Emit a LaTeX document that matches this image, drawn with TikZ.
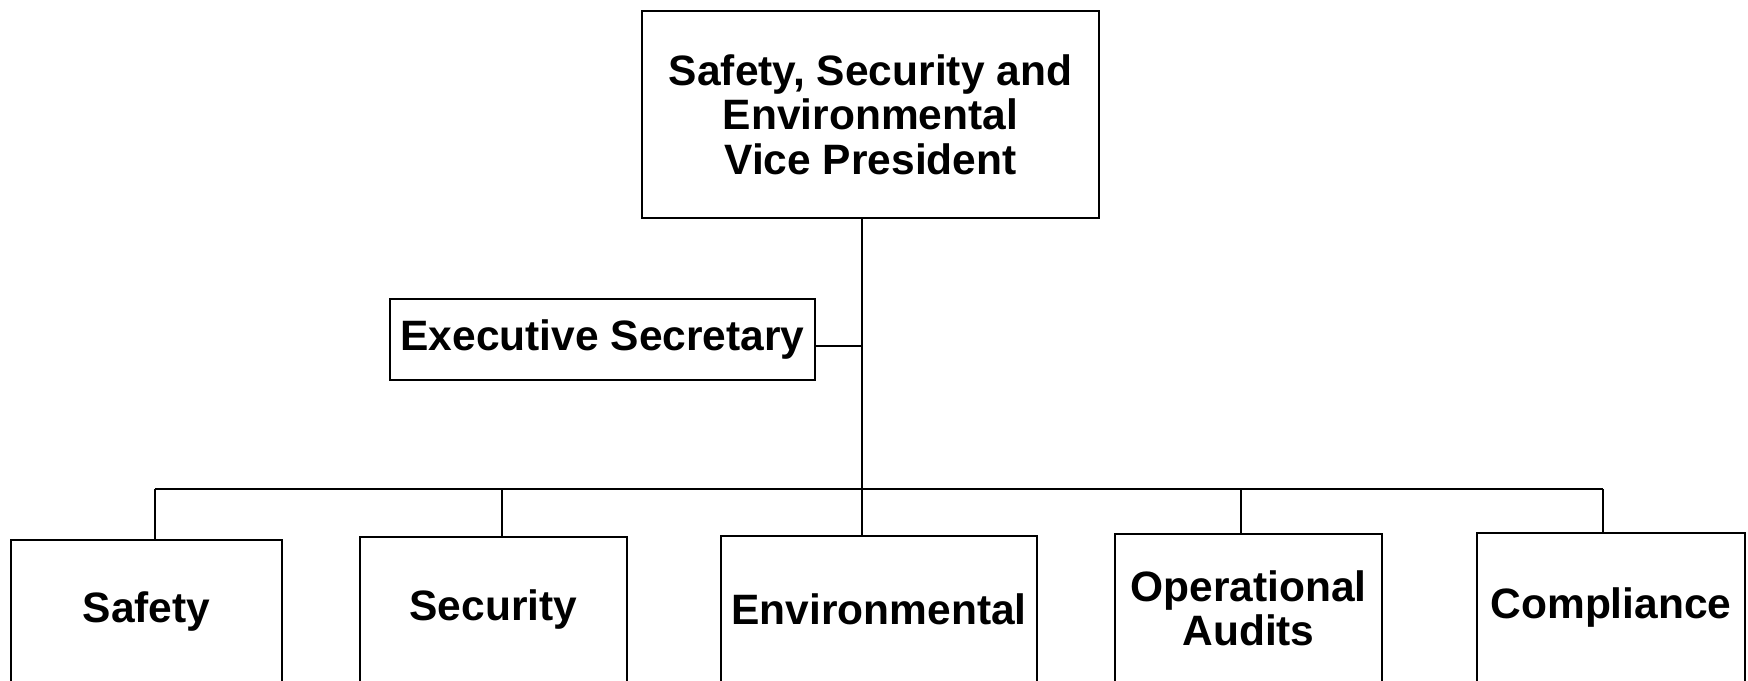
\documentclass[tikz,border=0pt]{standalone}
\usepackage{fontspec}
\setmainfont{Liberation Sans}
\begin{document}
\begin{tikzpicture}[x=1pt,y=-1pt,
  box/.style={draw, line width=2.2pt, inner sep=0pt, align=center,
    font=\fontsize{42.5}{44.5}\selectfont\bfseries},
  conn/.style={line width=2pt}]
\useasboundingbox (0,0) rectangle (1748,680);
\clip (0,0) rectangle (1748,680);
% top
\node[box, minimum width=457pt, minimum height=207pt] (vp) at (870.5,114.5)
  {Safety, Security and\\Environmental\\Vice President};
\node[box, minimum width=425pt, minimum height=81pt] (exec) at (602.5,339.5)
  {Executive Secretary};
% bottom boxes (cut by the lower edge)
\node[box, minimum width=271pt, minimum height=143pt] (safety) at (146.5,611.5) {Safety};
\node[box, minimum width=267pt, minimum height=146pt] (security) at (493.5,610) {Security};
\node[box, minimum width=316pt, minimum height=147pt] (env) at (879,609.5) {Environmental};
\node[box, minimum width=267pt, minimum height=149pt] (ops) at (1248.5,608.5) {Operational\\Audits};
\node[box, minimum width=268pt, minimum height=150pt] (comp) at (1611,608) {Compliance};
% connector points
\coordinate (bm) at (862,489);
\coordinate (ej) at (862,346);
\coordinate (b1) at (155,489);
\coordinate (b2) at (502,489);
\coordinate (b4) at (1241,489);
\coordinate (b5) at (1603,489);
% connectors
\draw[conn] (vp.south -| bm) -- (bm);
\draw[conn] (ej -| exec.east) -- (ej);
\draw[conn] (b1) -- (b5);
\draw[conn] (b1) -- (b1 |- safety.north);
\draw[conn] (b2) -- (b2 |- security.north);
\draw[conn] (bm) -- (bm |- env.north);
\draw[conn] (b4) -- (b4 |- ops.north);
\draw[conn] (b5) -- (b5 |- comp.north);
\end{tikzpicture}
\end{document}
